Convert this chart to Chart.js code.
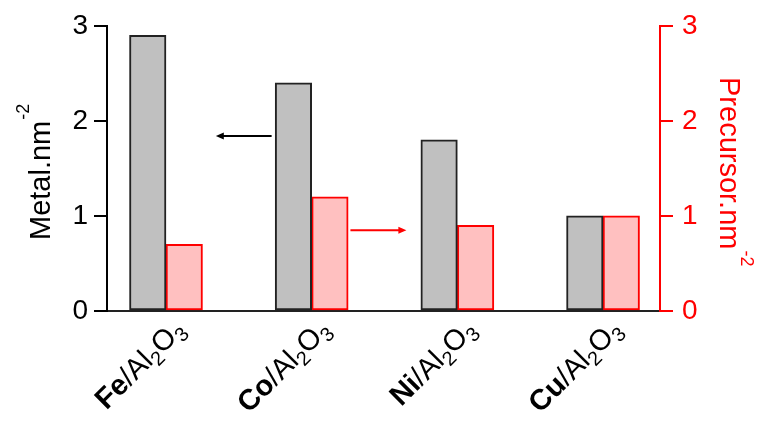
<!DOCTYPE html>
<html>
<head>
<meta charset="utf-8">
<script src="https://cdn.jsdelivr.net/npm/chart.js@4.4.1/dist/chart.umd.min.js"></script>
<style>
  html, body { margin: 0; padding: 0; background: #fff; }
</style>
</head>
<body>
<canvas id="chart" width="757" height="432"></canvas>
<script>
// categories: bold metal + support formula
const metals = ['Fe', 'Co', 'Ni', 'Cu'];
const supportParts = [['/Al', 'n'], ['2', 'sub'], ['O', 'n'], ['3', 'sub']];

// series values
const metalDensity = [2.9, 2.4, 1.8, 1.0];      // Metal.nm-2 (left axis)
const precursorDensity = [0.7, 1.2, 0.9, 1.0];  // Precursor.nm-2 (right axis)

// axes
const yMin = 0;
const yMax = 3;
const yStep = 1;

const FONT = '"Liberation Sans", Arial, sans-serif';
const RED = '#ff0000';

// arrows pointing to the axis each series belongs to (data units)
const arrowNotes = [
    { axis: 'y', from: 0.725, to: 0.342, at: 1.84, color: '#000' },
    { axis: 'y2', from: 1.266, to: 1.65, at: 0.85, color: RED }
];

function drawArrow(ctx, x0, x1, y, color) {
    const dir = Math.sign(x1 - x0);
    ctx.save();
    ctx.strokeStyle = color;
    ctx.fillStyle = color;
    ctx.lineWidth = 2;
    ctx.beginPath();
    ctx.moveTo(x0, y);
    ctx.lineTo(x1 - dir * 6, y);
    ctx.stroke();
    ctx.beginPath();
    ctx.moveTo(x1, y);
    ctx.lineTo(x1 - dir * 8, y - 3.5);
    ctx.lineTo(x1 - dir * 8, y + 3.5);
    ctx.closePath();
    ctx.fill();
    ctx.restore();
}

function drawTitle(ctx, x, y, angle, main, sup, color) {
    ctx.save();
    ctx.translate(x, y);
    ctx.rotate(angle);
    ctx.fillStyle = color;
    ctx.textAlign = 'left';
    ctx.textBaseline = 'alphabetic';
    ctx.font = '29px ' + FONT;
    ctx.fillText(main, 0, 0);
    const w = ctx.measureText(main).width;
    ctx.font = '18px ' + FONT;
    ctx.fillText(sup, w + 1, -21);
    ctx.restore();
}

const decorPlugin = {
    id: 'decor',
    afterDraw(chart) {
        const ctx = chart.ctx;
        const xs = chart.scales.x;

        // x category labels, rotated
        const fonts = {
            b: 'bold 29px ' + FONT,
            n: '29px ' + FONT,
            sub: '20px ' + FONT
        };
        metals.forEach((m, i) => {
            const parts = [[m, 'b']].concat(supportParts);
            ctx.save();
            let total = 0;
            parts.forEach(([t, k]) => {
                ctx.font = fonts[k];
                total += ctx.measureText(t).width;
            });
            ctx.translate(xs.getPixelForValue(i) + 20, 331);
            ctx.rotate(-Math.PI / 4);
            ctx.fillStyle = '#000';
            ctx.textAlign = 'left';
            ctx.textBaseline = 'alphabetic';
            let pos = -total;
            parts.forEach(([t, k]) => {
                ctx.font = fonts[k];
                ctx.fillText(t, pos, k === 'sub' ? 6 : 0);
                pos += ctx.measureText(t).width;
            });
            ctx.restore();
        });

        // axis titles
        drawTitle(ctx, 50, 240, -Math.PI / 2, 'Metal.nm', '-2', '#000');
        drawTitle(ctx, 720, 77, Math.PI / 2, 'Precursor.nm', '-2', RED);

        // arrows
        arrowNotes.forEach((a) => {
            const ys = chart.scales[a.axis];
            drawArrow(ctx, xs.getPixelForValue(a.from), xs.getPixelForValue(a.to), ys.getPixelForValue(a.at), a.color);
        });
    }
};

const ctx = document.getElementById('chart').getContext('2d');
new Chart(ctx, {
    type: 'bar',
    data: {
        datasets: [{
            label: 'Metal',
            data: metalDensity.map((v, i) => ({ x: i, y: v })),
            backgroundColor: '#c0c0c0',
            borderColor: '#222',
            borderWidth: 2,
            borderSkipped: false,
            barThickness: 36.5,
            yAxisID: 'y'
        }, {
            label: 'Precursor',
            data: precursorDensity.map((v, i) => ({ x: i, y: v })),
            backgroundColor: '#ffc0c0',
            borderColor: RED,
            borderWidth: 2,
            borderSkipped: false,
            barThickness: 36.5,
            yAxisID: 'y2'
        }]
    },
    options: {
        responsive: false,
        animation: false,
        layout: { padding: { top: 25, left: 0, right: 0, bottom: 0 } },
        plugins: { legend: { display: false }, tooltip: { enabled: false } },
        scales: {
            x: {
                type: 'linear',
                offset: false,
                min: -0.405,
                max: 3.391,
                grid: { display: false },
                ticks: { display: false },
                border: { display: true, color: '#222', width: 2 },
                afterFit: (s) => { s.height = 121; }
            },
            y: {
                position: 'left',
                min: yMin,
                max: yMax,
                ticks: {
                    stepSize: yStep,
                    color: '#000',
                    padding: 6,
                    font: { family: FONT, size: 28 }
                },
                grid: { drawOnChartArea: false, drawTicks: true, tickLength: 13, color: '#000', lineWidth: 2 },
                border: { display: true, color: '#000', width: 2 },
                afterFit: (s) => { s.width = 107; }
            },
            y2: {
                position: 'right',
                min: yMin,
                max: yMax,
                ticks: {
                    stepSize: yStep,
                    color: RED,
                    padding: 9,
                    font: { family: FONT, size: 28 }
                },
                grid: { drawOnChartArea: false, drawTicks: true, tickLength: 13, color: RED, lineWidth: 2 },
                border: { display: true, color: RED, width: 2 },
                afterFit: (s) => { s.width = 97; }
            }
        }
    },
    plugins: [decorPlugin]
});
</script>
</body>
</html>
